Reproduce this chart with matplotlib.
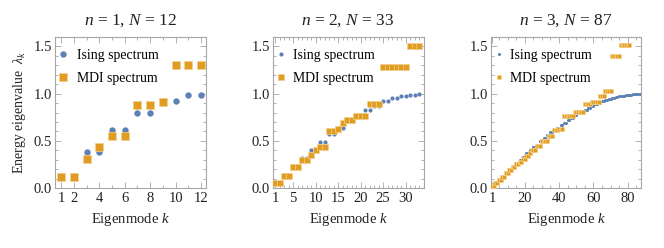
import matplotlib
matplotlib.use("Agg")
import matplotlib.pyplot as plt
from matplotlib.ticker import MultipleLocator, FixedLocator
from matplotlib.lines import Line2D

plt.rcParams['font.family'] = ['Liberation Serif', 'DejaVu Serif']
plt.rcParams['mathtext.fontset'] = 'custom'
plt.rcParams['mathtext.rm'] = 'Liberation Serif'
plt.rcParams['mathtext.it'] = 'Liberation Serif:italic'

BLUE = '#5E81B5'
ORANGE = '#E19C24'
EDGE = '#F4D08C'
FRAME = '#A6A6A6'

# panel 1: n = 1, N = 12
ising_1 = [0.13, 0.13, 0.38, 0.38, 0.61, 0.61, 0.79, 0.79, 0.92, 0.92, 0.99, 0.99]
mdi_1 = [0.12, 0.12, 0.31, 0.43, 0.55, 0.55, 0.88, 0.88, 0.91, 1.30, 1.30, 1.30]

# panel 2: n = 2, N = 33
ising_2 = [0.05, 0.05, 0.14, 0.14, 0.23, 0.23, 0.32, 0.32, 0.40, 0.40,
           0.49, 0.49, 0.57, 0.57, 0.64, 0.64, 0.71, 0.71, 0.77, 0.77,
           0.83, 0.83, 0.87, 0.87, 0.92, 0.92, 0.95, 0.95, 0.97, 0.97,
           0.99, 0.99, 1.00]
mdi_2 = [0.05, 0.05, 0.13, 0.13, 0.22, 0.22, 0.30, 0.30, 0.35, 0.40,
         0.43, 0.43, 0.60, 0.60, 0.62, 0.69, 0.72, 0.72, 0.76, 0.76,
         0.76, 0.89, 0.89, 0.89, 1.28, 1.28, 1.28, 1.28, 1.28, 1.28,
         1.50, 1.50, 1.50]

# panel 3: n = 3, N = 87
ising_3 = [0.02, 0.02, 0.05, 0.05, 0.09, 0.09, 0.12, 0.12, 0.16, 0.16,
           0.20, 0.20, 0.23, 0.23, 0.26, 0.26, 0.30, 0.30, 0.33, 0.33,
           0.37, 0.37, 0.40, 0.40, 0.43, 0.43, 0.46, 0.46, 0.50, 0.50,
           0.53, 0.53, 0.56, 0.56, 0.59, 0.59, 0.61, 0.61, 0.64, 0.64,
           0.67, 0.67, 0.69, 0.69, 0.72, 0.72, 0.74, 0.74, 0.77, 0.77,
           0.79, 0.79, 0.81, 0.81, 0.83, 0.83, 0.85, 0.85, 0.87, 0.87,
           0.89, 0.89, 0.90, 0.90, 0.92, 0.92, 0.93, 0.93, 0.94, 0.94,
           0.95, 0.95, 0.96, 0.96, 0.97, 0.97, 0.98, 0.98, 0.99, 0.99,
           0.99, 0.99, 1.00, 1.00, 1.00, 1.00, 1.00]
mdi_3 = [0.02, 0.02, 0.05, 0.05, 0.09, 0.09, 0.12, 0.12, 0.16, 0.16,
         0.19, 0.19, 0.22, 0.22, 0.25, 0.25, 0.28, 0.28, 0.31, 0.31,
         0.34, 0.34, 0.37, 0.40, 0.40, 0.40, 0.44, 0.44, 0.44, 0.50,
         0.50, 0.50, 0.50, 0.55, 0.55, 0.55, 0.61, 0.61, 0.61, 0.63,
         0.63, 0.63, 0.76, 0.76, 0.76, 0.76, 0.76, 0.76, 0.81, 0.81,
         0.81, 0.81, 0.81, 0.81, 0.89, 0.89, 0.89, 0.89, 0.91, 0.91,
         0.91, 0.91, 0.91, 0.97, 0.97, 0.97, 1.03, 1.03, 1.03, 1.03,
         1.40, 1.40, 1.40, 1.40, 1.40, 1.52, 1.52, 1.52, 1.52, 1.52,
         1.52]

panels = [
    dict(n=1, N=12, ising=ising_1, mdi=mdi_1, left=55, xlim=(0.5, 12.4),
         major=[1, 2, 4, 6, 8, 10, 12], minor=1, ms_i=4.6, ms_m=5.6, gap=0.7),
    dict(n=2, N=33, ising=ising_2, mdi=mdi_2, left=272.5, xlim=(0.4, 34.0),
         major=[1, 5, 10, 15, 20, 25, 30], minor=1, ms_i=3.0, ms_m=4.8, gap=0.6),
    dict(n=3, N=87, ising=ising_3, mdi=mdi_3, left=490.5, xlim=(0.1, 88.0),
         major=[1, 20, 40, 60, 80], minor=5, ms_i=2.2, ms_m=3.4, gap=0.5),
]

fig = plt.figure(figsize=(6.64, 2.48), dpi=100)
W, H = 664, 248

for i, p in enumerate(panels):
    ax = fig.add_axes([p['left'] / W, 60 / H, 151 / W, 151 / H])
    k_i = list(range(1, len(p['ising']) + 1))
    k_m = list(range(1, len(p['mdi']) + 1))
    ax.plot(k_i, p['ising'], 'o', ms=p['ms_i'], color=BLUE, mec=BLUE, mew=0, zorder=2)
    ax.plot(k_m, p['mdi'], 's', ms=p['ms_m'], color=ORANGE, mec=EDGE, mew=0.5, zorder=3)
    ax.set_xlim(*p['xlim'])
    ax.set_ylim(0, 1.6)

    ax.xaxis.set_major_locator(FixedLocator(p['major']))
    ax.xaxis.set_minor_locator(MultipleLocator(p['minor']))
    ax.yaxis.set_major_locator(FixedLocator([0, 0.5, 1.0, 1.5]))
    ax.yaxis.set_minor_locator(MultipleLocator(0.1))
    ax.set_yticklabels(['0.0', '0.5', '1.0', '1.5'])
    ax.tick_params(which='both', direction='in', top=True, right=True,
                   color=FRAME, labelsize=10.5, labelcolor='#222222', width=0.6)
    ax.tick_params(which='major', length=4)
    ax.tick_params(which='minor', length=2)
    ax.tick_params(axis='x', pad=3)
    ax.tick_params(axis='y', pad=2)
    for s in ax.spines.values():
        s.set_color(FRAME)
        s.set_linewidth(0.8)

    ax.set_title(f"$n$ = {p['n']}, $N$ = {p['N']}", fontsize=12.5, pad=9, color='#222222')
    ax.set_xlabel("Eigenmode $k$", fontsize=10.5, labelpad=4, color='#222222')
    if i == 0:
        ax.set_ylabel("Energy eigenvalue  $\\lambda_k$", fontsize=10, labelpad=4,
                      color='#222222')

    handles = [
        Line2D([], [], ls='none', marker='o', ms=p['ms_i'], color=BLUE, mew=0),
        Line2D([], [], ls='none', marker='s', ms=p['ms_m'], color=ORANGE, mec=EDGE, mew=0.5),
    ]
    ax.legend(handles, ['Ising spectrum', 'MDI spectrum'], loc='upper left',
              bbox_to_anchor=(0.0, 0.95), frameon=False, fontsize=9.9,
              handlelength=0.6, handletextpad=p['gap'], labelspacing=0.75,
              borderaxespad=0, borderpad=0.3, numpoints=1)

fig.savefig('out.png', dpi=100)
